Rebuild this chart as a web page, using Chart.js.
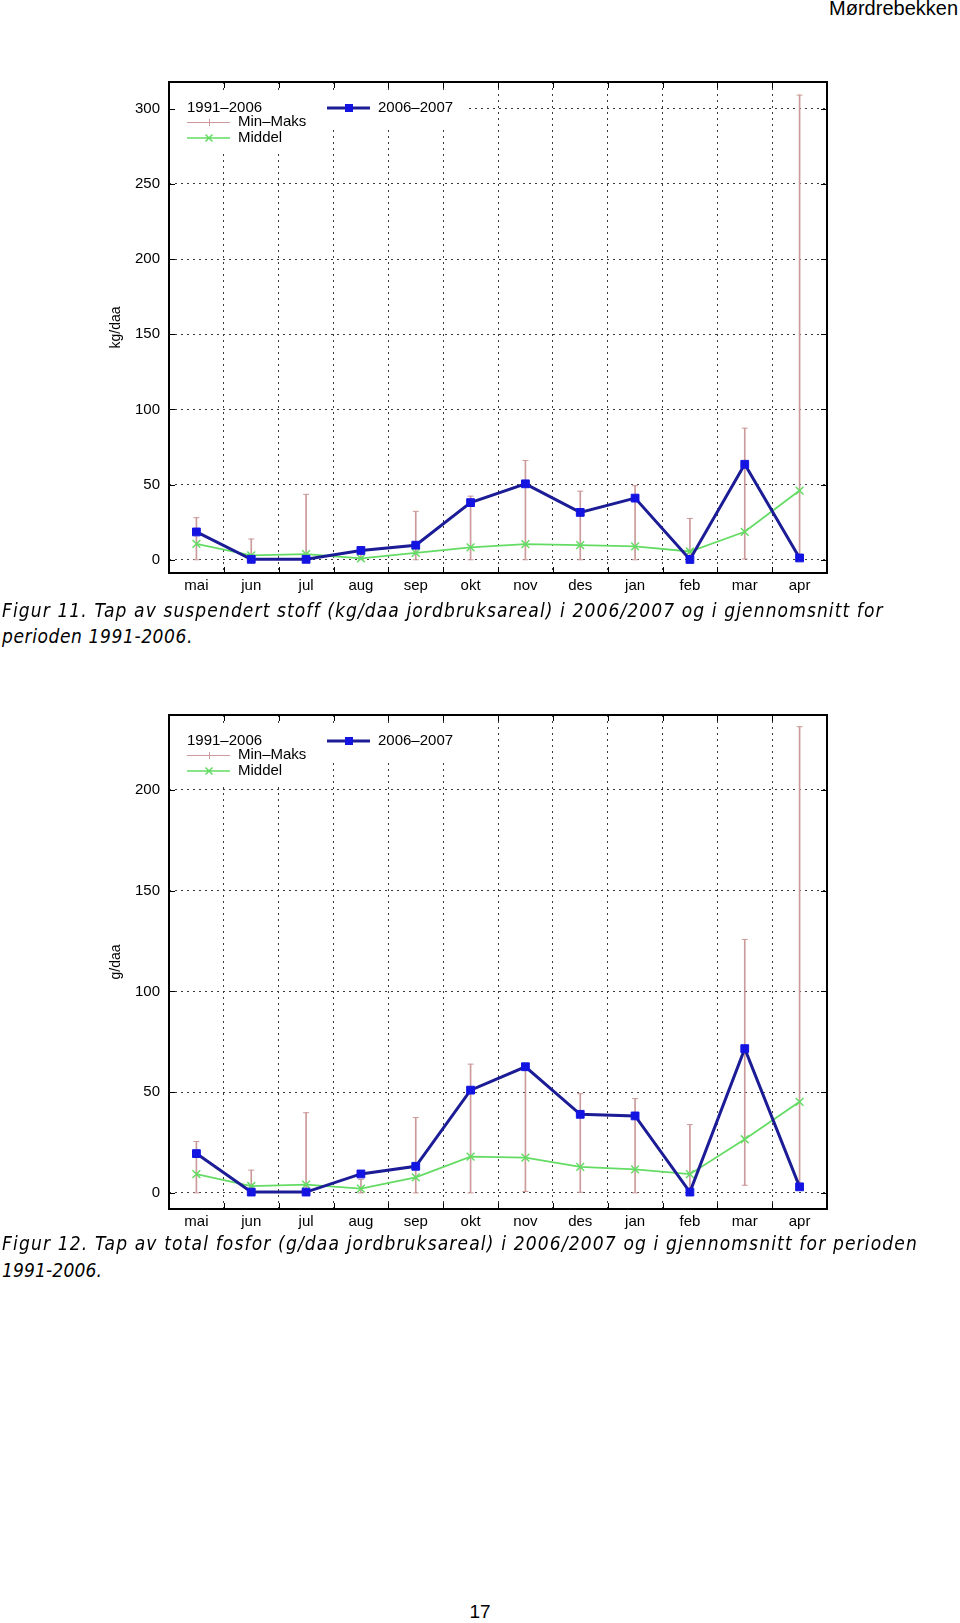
<!DOCTYPE html>
<html lang="no">
<head>
<meta charset="utf-8">
<title>Mørdrebekken</title>
<script src="https://cdn.jsdelivr.net/npm/chart.js@4.4.1/dist/chart.umd.min.js"></script>
<style>
  html, body { margin: 0; padding: 0; background: #fff; }
  #page { position: relative; width: 960px; height: 1623px; overflow: hidden;
          font-family: "Liberation Sans", Arial, sans-serif; color: #000; }
  canvas { position: absolute; left: 0; display: block; }
  #c1 { top: 60px; }
  #c2 { top: 693px; }
  .head { position: absolute; right: 2px; top: -3px; font-size: 20px; }
  .cap { position: absolute; left: 2px; font-family: "Liberation Sans Narrow", "DejaVu Sans Condensed", sans-serif;
         font-style: italic; font-size: 19px; line-height: 26px; white-space: nowrap; }
  .pnum { position: absolute; left: 0; width: 960px; text-align: center; top: 1601px; font-size: 19px; }
</style>
</head>
<body>
<div id="page">
  <div class="head">Mørdrebekken</div>

  <canvas id="c1" width="960" height="543"></canvas>
  <div class="cap" style="top:597px" data-w="882">Figur 11. Tap av suspendert stoff (kg/daa jordbruksareal) i 2006/2007 og i gjennomsnitt for</div>
  <div class="cap" style="top:623px" data-w="191">perioden 1991-2006.</div>

  <canvas id="c2" width="960" height="546"></canvas>
  <div class="cap" style="top:1230px" data-w="916">Figur 12. Tap av total fosfor (g/daa jordbruksareal) i 2006/2007 og i gjennomsnitt for perioden</div>
  <div class="cap" style="top:1257px" data-w="100">1991-2006.</div>

  <div class="pnum">17</div>
</div>

<script>
const months = ['mai', 'jun', 'jul', 'aug', 'sep', 'okt', 'nov', 'des', 'jan', 'feb', 'mar', 'apr'];

// Figur 11 - suspendert stoff, kg/daa
const ssYear  = [18.5, 0.3, 0.3, 6.2, 9.7, 38.0, 50.5, 31.5, 41.0, 0.2, 63.5, 1.2];
const ssMean  = [10.6, 2.9, 3.8, 0.9, 4.6, 8.2, 10.4, 9.7, 8.9, 5.5, 18.6, 46.0];
const ssMin   = [0, 0, 0, 0, 0, 0, 0, 0, 0, 0, 0.5, 1.5];
const ssMax   = [28.0, 13.8, 43.5, 5.0, 32.2, 42.3, 66.0, 45.6, 49.2, 27.5, 87.5, 309];
const ssTicks = [0, 50, 100, 150, 200, 250, 300];

// Figur 12 - total fosfor, g/daa
const tpYear  = [19.5, 0.4, 0.4, 9.4, 13.2, 51.0, 62.6, 39.0, 38.2, 0.4, 71.6, 3.0];
const tpMean  = [9.3, 3.4, 4.1, 2.1, 7.7, 18.0, 17.5, 12.9, 11.7, 9.3, 26.6, 45.2];
const tpMin   = [0, 0, 0, 0, 0, 0, 0.7, 0.3, 0, 0, 3.8, 3.0];
const tpMax   = [25.5, 11.3, 39.8, 6.7, 37.4, 63.9, 63.0, 49.2, 46.8, 33.9, 125.8, 231.4];
const tpTicks = [0, 50, 100, 150, 200];

const keyHeader = '1991–2006';
const keyRange  = 'Min–Maks';
const keyMean   = 'Middel';
const keyYear   = '2006–2007';

const NAVY = '#1c1c96', BLUE = '#1414e2', GREEN = '#64dc64', ROSY = '#cc9a9a', GRID = '#3a3a3a';
const FONT = '"Liberation Sans", Arial, sans-serif';

Chart.defaults.font.family = FONT;
Chart.defaults.font.size = 15;
Chart.defaults.color = '#000';

// gnuplot-like key, inward tics and frame
const gnuFrame = {
  id: 'gnuFrame',
  afterDraw(chart) {
    const { ctx, chartArea: a, scales: { x, y } } = chart;
    const L = a.left, T = a.top;
    ctx.save();

    // key background (opaque)
    ctx.fillStyle = '#fff';
    ctx.fillRect(L + 1, T + 9, 140, 61);
    ctx.fillRect(L + 141, T + 9, 156, 36);

    ctx.font = '15px ' + FONT;
    ctx.fillStyle = '#000';
    ctx.textBaseline = 'middle';
    ctx.fillText(keyHeader, L + 18, T + 26);
    ctx.fillText(keyRange, L + 69, T + 40);
    ctx.fillText(keyMean, L + 69, T + 56);
    ctx.fillText(keyYear, L + 209, T + 26);

    // Min-Maks sample
    ctx.strokeStyle = ROSY; ctx.lineWidth = 1;
    ctx.beginPath();
    ctx.moveTo(L + 18, T + 40.5); ctx.lineTo(L + 61, T + 40.5);
    ctx.moveTo(L + 40.5, T + 37); ctx.lineTo(L + 40.5, T + 44);
    ctx.stroke();

    // Middel sample
    ctx.strokeStyle = GREEN; ctx.lineWidth = 1.5;
    ctx.beginPath();
    ctx.moveTo(L + 18, T + 56); ctx.lineTo(L + 61, T + 56);
    ctx.moveTo(L + 36.5, T + 52.5); ctx.lineTo(L + 43.5, T + 59.5);
    ctx.moveTo(L + 43.5, T + 52.5); ctx.lineTo(L + 36.5, T + 59.5);
    ctx.stroke();

    // 2006-2007 sample
    ctx.strokeStyle = NAVY; ctx.lineWidth = 3;
    ctx.beginPath();
    ctx.moveTo(L + 158, T + 26); ctx.lineTo(L + 201, T + 26);
    ctx.stroke();
    ctx.fillStyle = BLUE;
    ctx.fillRect(L + 176, T + 22, 8, 8);

    // inward tics
    ctx.strokeStyle = '#000'; ctx.lineWidth = 1;
    ctx.beginPath();
    y.ticks.forEach(t => {
      const py = Math.round(y.getPixelForValue(t.value)) + 0.5;
      ctx.moveTo(L, py); ctx.lineTo(L + 6, py);
      ctx.moveTo(a.right, py); ctx.lineTo(a.right - 6, py);
    });
    for (let i = 0; i < months.length - 1; i++) {
      const px = Math.round((x.getPixelForValue(i) + x.getPixelForValue(i + 1)) / 2) + 0.5;
      ctx.moveTo(px, T); ctx.lineTo(px, T + 6);
      ctx.moveTo(px, a.bottom); ctx.lineTo(px, a.bottom - 6);
    }
    ctx.stroke();

    // frame
    ctx.lineWidth = 2;
    ctx.strokeRect(L, T, a.right - L, a.bottom - T);
    ctx.restore();
  }
};

function makeChart(id, year, mean, lo, hi, tickVals, yMin, yMax, unit) {
  return new Chart(document.getElementById(id), {
    type: 'line',
    data: {
      labels: months,
      datasets: [
        {
          label: keyYear, data: year, order: 1,
          borderColor: NAVY, borderWidth: 3,
          pointStyle: 'rect', pointRadius: 5.5,
          pointBackgroundColor: BLUE, pointBorderColor: BLUE, pointBorderWidth: 1
        },
        {
          label: keyMean, data: mean, order: 2,
          borderColor: GREEN, borderWidth: 1.8,
          pointStyle: 'crossRot', pointRadius: 5.5,
          pointBorderColor: GREEN, pointBorderWidth: 1.5
        },
        {
          label: 'min', data: lo, order: 3, showLine: false,
          pointStyle: 'line', pointRadius: 3, pointBorderColor: ROSY, pointBorderWidth: 1
        },
        {
          label: 'maks', data: hi, order: 3, showLine: false,
          pointStyle: 'line', pointRadius: 3, pointBorderColor: ROSY, pointBorderWidth: 1
        },
        {
          type: 'bar', label: keyRange, order: 4, grouped: false,
          data: lo.map((v, i) => [v, hi[i]]),
          backgroundColor: ROSY, barThickness: 1
        }
      ]
    },
    options: {
      responsive: false,
      animation: false,
      devicePixelRatio: 1,
      layout: { padding: { left: 104, right: 133, top: 22, bottom: 0 } },
      plugins: { legend: { display: false }, tooltip: { enabled: false } },
      scales: {
        x: {
          offset: true,
          grid: { offset: true, drawTicks: false, color: GRID, lineWidth: 1 },
          border: { display: false, dash: [2, 4] },
          ticks: { padding: 4, autoSkip: false, maxRotation: 0, font: { size: 15 } },
          afterFit: s => { s.height = 30; }
        },
        y: {
          min: yMin, max: yMax,
          grid: { drawTicks: false, color: GRID, lineWidth: 1 },
          border: { display: false, dash: [2, 4] },
          ticks: { padding: 9, font: { size: 15 } },
          afterBuildTicks: s => { s.ticks = tickVals.map(v => ({ value: v })); },
          afterFit: s => { s.width = 65; },
          title: { display: true, text: unit, font: { size: 14 }, padding: { top: 4, bottom: 0 } }
        }
      }
    },
    plugins: [gnuFrame]
  });
}

makeChart('c1', ssYear, ssMean, ssMin, ssMax, ssTicks, -8.8, 317.7, 'kg/daa');
makeChart('c2', tpYear, tpMean, tpMin, tpMax, tpTicks, -8, 237.2, 'g/daa');

// spread caption lines to the width they take in the report
function fitCaptions() {
  document.querySelectorAll('.cap[data-w]').forEach(el => {
    el.style.letterSpacing = '0px';
    const w = el.getBoundingClientRect().width;
    const n = el.textContent.length;
    el.style.letterSpacing = ((+el.dataset.w - w) / n) + 'px';
  });
}
fitCaptions();
if (document.fonts) document.fonts.ready.then(fitCaptions);
</script>
</body>
</html>
